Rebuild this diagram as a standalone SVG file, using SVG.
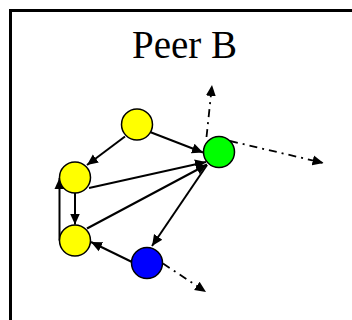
<svg xmlns="http://www.w3.org/2000/svg" width="352" height="320" viewBox="0 0 352 320">
<style>
.frame{fill:#fff;stroke:#000;stroke-width:3}
.title{font-family:"Liberation Serif","Times New Roman",serif;font-size:39px;fill:#000}
.node{stroke:#000;stroke-width:1.5}
.edge{stroke:#000;stroke-width:2;fill:none}
.dd{stroke:#000;stroke-width:1.8;fill:none;stroke-dasharray:8 5 2 5}
</style>
<defs>
<marker id="ah" markerUnits="userSpaceOnUse" markerWidth="12" markerHeight="12" viewBox="0 0 12 12" refX="11" refY="6" orient="auto">
<path d="M0,1 L11,6 L0,11 Z" fill="#000"/>
</marker>
</defs>
<rect class="frame" x="10.5" y="10.5" width="400" height="400"/>
<text class="title" x="184.5" y="58" text-anchor="middle">Peer B</text>
<g id="connectors">
<line class="edge" x1="150" y1="132" x2="203" y2="152.5" marker-end="url(#ah)"/>
<line class="edge" x1="125" y1="136.5" x2="87" y2="165" marker-end="url(#ah)"/>
<line class="edge" x1="89" y1="188" x2="206" y2="162" marker-end="url(#ah)"/>
<line class="edge" x1="87" y1="228.5" x2="207" y2="164.5" marker-end="url(#ah)"/>
<line class="edge" x1="207" y1="165" x2="152" y2="246" marker-end="url(#ah)"/>
<line class="edge" x1="132" y1="262" x2="91" y2="242" marker-end="url(#ah)"/>
<line class="edge" x1="75" y1="193" x2="75" y2="224.5" marker-end="url(#ah)"/>
<line class="edge" x1="59.5" y1="240.5" x2="59.5" y2="178" marker-end="url(#ah)"/>
<line class="dd" x1="206.5" y1="137" x2="212" y2="85" marker-end="url(#ah)"/>
<line class="dd" x1="230" y1="141" x2="323.5" y2="163" marker-end="url(#ah)"/>
<line class="dd" x1="163" y1="263.5" x2="206" y2="292" marker-end="url(#ah)"/>
</g>
<g id="n1"><circle class="node" cx="137" cy="124.5" r="15.5" fill="#ffff00"/></g>
<g id="n2"><circle class="node" cx="75" cy="177.5" r="15.5" fill="#ffff00"/></g>
<g id="n3"><circle class="node" cx="75" cy="240.5" r="15.5" fill="#ffff00"/></g>
<g id="n4"><circle class="node" cx="219" cy="152" r="15.5" fill="#00ff00"/></g>
<g id="n5"><circle class="node" cx="147" cy="263" r="15.5" fill="#0000ff"/></g>
</svg>
